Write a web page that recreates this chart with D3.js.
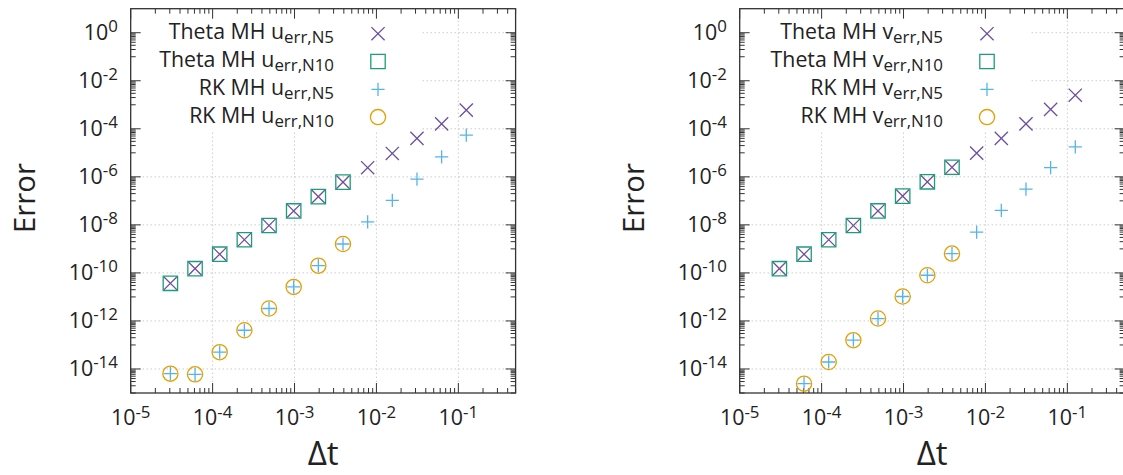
<!DOCTYPE html>
<html>
<head>
<meta charset="utf-8">
<script src="https://cdn.jsdelivr.net/npm/d3@7"></script>
<style>
  html, body { margin: 0; padding: 0; background: #fff; }
  svg { display: block; font-family: "Open Sans", "Noto Sans", sans-serif; }
</style>
</head>
<body>
<svg id="chart" width="1123" height="475"></svg>
<script>
// Time step sizes (halving from 1/8)
const dt = [0.125, 0.0625, 0.03125, 0.015625, 0.0078125, 0.00390625, 0.001953125,
            0.0009765625, 0.00048828125, 0.000244140625, 0.0001220703125,
            0.00006103515625, 0.000030517578125];

// u errors
const uThetaN5  = [6.0e-4, 1.6e-4, 4.0e-5, 9.4e-6, 2.4e-6, 6.0e-7, 1.5e-7, 3.8e-8, 9.4e-9, 2.4e-9, 6.0e-10, 1.5e-10, 3.7e-11];
const uThetaN10 = [6.0e-7, 1.5e-7, 3.8e-8, 9.4e-9, 2.4e-9, 6.0e-10, 1.5e-10, 3.7e-11];
const uRKN5     = [5.5e-5, 6.8e-6, 8.0e-7, 1.04e-7, 1.33e-8, 1.6e-9, 2.0e-10, 2.6e-11, 3.3e-12, 4.1e-13, 5.0e-14, 6.0e-15, 6.4e-15];
const uRKN10    = [1.6e-9, 2.0e-10, 2.6e-11, 3.3e-12, 4.1e-13, 5.0e-14, 6.0e-15, 6.4e-15];

// v errors
const vThetaN5  = [2.5e-3, 6.4e-4, 1.6e-4, 4.0e-5, 9.7e-6, 2.5e-6, 6.2e-7, 1.57e-7, 3.8e-8, 9.4e-9, 2.4e-9, 6.0e-10, 1.5e-10];
const vThetaN10 = [2.5e-6, 6.2e-7, 1.57e-7, 3.8e-8, 9.4e-9, 2.4e-9, 6.0e-10, 1.5e-10];
const vRKN5     = [1.78e-5, 2.4e-6, 3.1e-7, 4.0e-8, 5.0e-9, 6.4e-10, 8.0e-11, 1.04e-11, 1.26e-12, 1.58e-13, 1.95e-14, 2.45e-15];
const vRKN10    = [6.4e-10, 8.0e-11, 1.04e-11, 1.26e-12, 1.58e-13, 1.95e-14, 2.45e-15];

// Axis ticks (exponents)
const xTickExps = [-5, -4, -3, -2, -1];
const yTickExps = [0, -2, -4, -6, -8, -10, -12, -14];

const methods = ["Theta MH", "Theta MH", "RK MH", "RK MH"];
const subs    = ["err,N5", "err,N10", "err,N5", "err,N10"];
const shapes  = ["times", "square", "plus", "circle"];
const colors  = ["#6c4f9f", "#1b9e77", "#56b4e9", "#e69f00"];

const panels = [
  { left: 130.7, variable: "u", sets: [
      { x: dt, y: uThetaN5 }, { x: dt.slice(5), y: uThetaN10 },
      { x: dt, y: uRKN5 },    { x: dt.slice(5), y: uRKN10 } ] },
  { left: 739.7, variable: "v", sets: [
      { x: dt, y: vThetaN5 }, { x: dt.slice(5), y: vThetaN10 },
      { x: dt.slice(0, 12), y: vRKN5 }, { x: dt.slice(5, 12), y: vRKN10 } ] }
];

const svg = d3.select("#chart");
const plotW = 384.9, yTop = 8.7, yBottom = 393;
const textColor = "#222";
const frameColor = "#333";

// font size that gives a string the wanted rendered width
function sizeForWidth(str, width) {
  const t = svg.append("text").attr("font-size", 100).text(str);
  const w = t.node().getComputedTextLength();
  t.remove();
  return 100 * width / w;
}
const tickSize   = sizeForWidth("10", 24.5);
const supSize    = sizeForWidth("-14", 24.7);
const keySize    = sizeForWidth("Theta MH", 96.7);
const keySubSize = sizeForWidth("err,N5", 50);
const errorSize  = sizeForWidth("Error", 70);
const dtSize     = sizeForWidth("Δt", 31);

function markerPath(shape, r) {
  const p = d3.path();
  if (shape === "times") {
    p.moveTo(-r, -r); p.lineTo(r, r); p.moveTo(-r, r); p.lineTo(r, -r);
  } else if (shape === "plus") {
    p.moveTo(-r, 0); p.lineTo(r, 0); p.moveTo(0, -r); p.lineTo(0, r);
  } else if (shape === "square") {
    p.rect(-r, -r, 2 * r, 2 * r);
  } else {
    p.moveTo(r, 0);
    p.arc(0, 0, r, 0, 2 * Math.PI);
  }
  return p.toString();
}
const markerSize = { times: 6.6, plus: 6.6, square: 7.2, circle: 7.6 };

panels.forEach(panel => {
  const x0 = panel.left, x1 = panel.left + plotW;
  const x = d3.scaleLog().domain([1e-5, 0.5]).range([x0, x1]);
  const y = d3.scaleLog().domain([1e-15, 1e1]).range([yBottom, yTop]);
  const g = svg.append("g");

  // dotted grid at major ticks
  const grid = g.append("g").attr("stroke", "#b4b4b4").attr("stroke-width", 1)
    .attr("stroke-dasharray", "1,3");
  xTickExps.filter(e => e > -5).forEach(e => {
    const px = x(Math.pow(10, e));
    grid.append("line").attr("x1", px).attr("x2", px).attr("y1", yTop).attr("y2", yBottom);
  });
  yTickExps.forEach(e => {
    const py = y(Math.pow(10, e));
    grid.append("line").attr("x1", x0).attr("x2", x1).attr("y1", py).attr("y2", py);
  });

  // opaque key box
  g.append("rect").attr("x", x0).attr("y", yTop).attr("width", 291).attr("height", 122.5)
    .attr("fill", "#fff");

  // tick marks on all four sides
  const ticks = g.append("g").attr("stroke", frameColor).attr("stroke-width", 1);
  const majorLen = 10, minorLen = 5;
  // x: major every decade, minor at 2..9
  for (let e = -5; e <= 0; e++) {
    for (let m = 1; m <= 9; m++) {
      const v = m * Math.pow(10, e);
      if (v < 1e-5 || v > 0.5) continue;
      const px = x(v), len = m === 1 ? majorLen : minorLen;
      ticks.append("line").attr("x1", px).attr("x2", px).attr("y1", yBottom).attr("y2", yBottom - len);
      ticks.append("line").attr("x1", px).attr("x2", px).attr("y1", yTop).attr("y2", yTop + len);
    }
  }
  // y: major every second decade, minor at m/10 of each major
  yTickExps.forEach(e => {
    const M = Math.pow(10, e);
    const py = y(M);
    [[x0, 1], [x1, -1]].forEach(([bx, dir]) => {
      ticks.append("line").attr("x1", bx).attr("x2", bx + dir * majorLen).attr("y1", py).attr("y2", py);
      for (let m = 1; m <= 9; m++) {
        const pm = y(M * m / 10);
        ticks.append("line").attr("x1", bx).attr("x2", bx + dir * minorLen).attr("y1", pm).attr("y2", pm);
      }
    });
  });

  // frame
  g.append("rect").attr("x", x0).attr("y", yTop).attr("width", x1 - x0).attr("height", yBottom - yTop)
    .attr("fill", "none").attr("stroke", frameColor).attr("stroke-width", 1.3);

  // tick labels
  const lab = g.append("g").attr("fill", textColor).attr("font-size", tickSize);
  yTickExps.forEach(e => {
    const t = lab.append("text").attr("x", x0 - 12.8).attr("y", y(Math.pow(10, e)) + 7)
      .attr("text-anchor", "end").text("10");
    t.append("tspan").attr("dy", -7.5).attr("font-size", supSize).text(String(e));
  });
  xTickExps.forEach(e => {
    const t = lab.append("text").attr("x", x(Math.pow(10, e))).attr("y", 425)
      .attr("text-anchor", "middle").text("10");
    t.append("tspan").attr("dy", -7.5).attr("font-size", supSize).text(String(e));
  });

  // axis titles
  g.append("text").attr("transform", `translate(${x0 - 96},198) rotate(-90)`)
    .attr("text-anchor", "middle").attr("font-size", errorSize).attr("fill", textColor).text("Error");
  g.append("text").attr("x", (x0 + x1) / 2).attr("y", 465)
    .attr("text-anchor", "middle").attr("font-size", dtSize).attr("fill", textColor).text("Δt");

  // data markers
  panel.sets.forEach((s, i) => {
    const pts = s.x.map((d, k) => [d, s.y[k]]);
    g.append("g").selectAll("path").data(pts).join("path")
      .attr("transform", d => `translate(${x(d[0])},${y(d[1])})`)
      .attr("d", markerPath(shapes[i], markerSize[shapes[i]]))
      .attr("fill", "none").attr("stroke", colors[i]).attr("stroke-width", 1.3);
  });

  // key
  methods.forEach((mth, i) => {
    const ry = 33.7 + i * 27.8;
    const t = g.append("text").attr("x", x0 + 203.3).attr("y", ry + 5.5)
      .attr("text-anchor", "end").attr("font-size", keySize).attr("fill", textColor)
      .text(`${mth} ${panel.variable}`);
    t.append("tspan").attr("dy", 4).attr("font-size", keySubSize).text(subs[i]);
    g.append("path").attr("transform", `translate(${x0 + 247.3},${ry})`)
      .attr("d", markerPath(shapes[i], markerSize[shapes[i]]))
      .attr("fill", "none").attr("stroke", colors[i]).attr("stroke-width", 1.3);
  });
});
</script>
</body>
</html>
